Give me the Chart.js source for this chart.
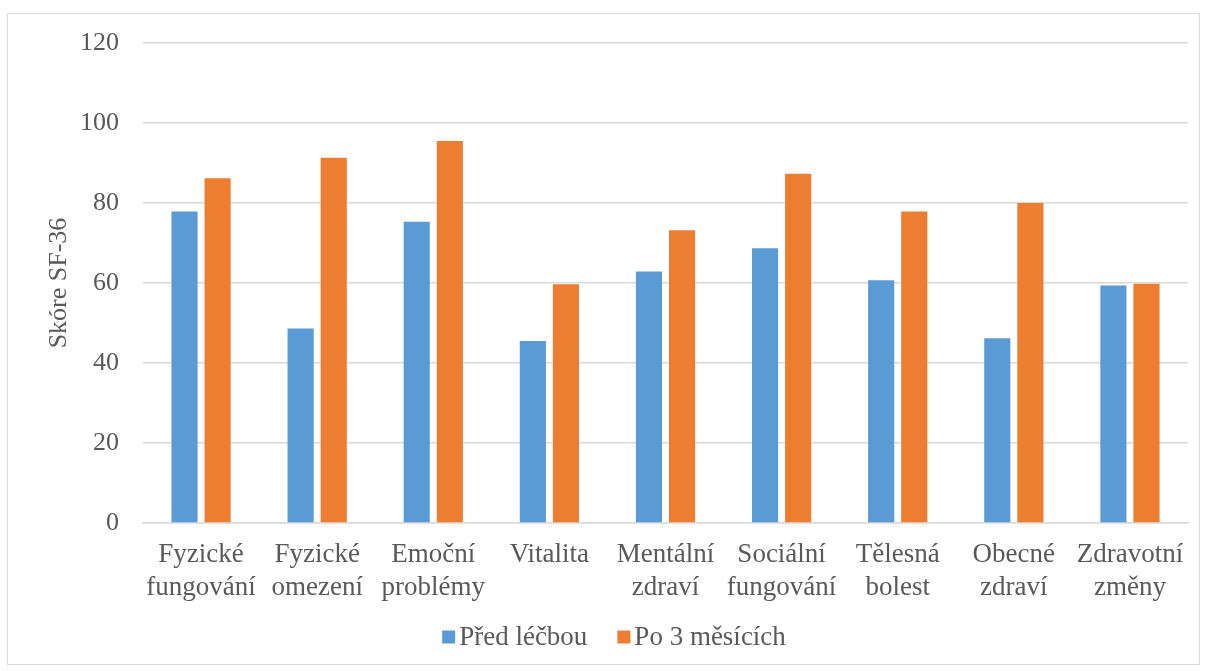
<!DOCTYPE html>
<html>
<head>
<meta charset="utf-8">
<script src="https://cdn.jsdelivr.net/npm/chart.js@4/dist/chart.umd.min.js"></script>
<style>
  html, body { margin: 0; padding: 0; background: #fff; }
  #wrap { width: 1207px; height: 671px; position: relative; }
</style>
</head>
<body>
<div id="wrap"><canvas id="c" width="1207" height="671"></canvas></div>
<script>
const categories = [
  ['Fyzické', 'fungování'],
  ['Fyzické', 'omezení'],
  ['Emoční', 'problémy'],
  'Vitalita',
  ['Mentální', 'zdraví'],
  ['Sociální', 'fungování'],
  ['Tělesná', 'bolest'],
  ['Obecné', 'zdraví'],
  ['Zdravotní', 'změny']
];
const seriesNames = ['Před léčbou', 'Po 3 měsících'];
const predLecbou = [77.9, 48.6, 75.3, 45.5, 62.9, 68.7, 60.7, 46.2, 59.4];
const po3Mesicich = [86.2, 91.3, 95.5, 59.7, 73.2, 87.3, 77.9, 80.0, 59.8];
const yTicks = [0, 20, 40, 60, 80, 100, 120];
const yTitle = 'Skóre SF-36';

const FONT = "'Liberation Serif', 'Times New Roman', serif";
const TEXT = '#595959';
const GRID = '#D9D9D9';

const frame = {
  id: 'frame',
  beforeDraw(chart) {
    const ctx = chart.ctx;
    ctx.save();
    ctx.fillStyle = '#fff';
    ctx.fillRect(0, 0, chart.width, chart.height);
    ctx.strokeStyle = GRID;
    ctx.lineWidth = 1;
    ctx.strokeRect(7.5, 13.5, 1192, 651);
    ctx.restore();
  }
};

// Legend drawn from the chart's datasets (Excel-like spacing)
const excelLegend = {
  id: 'excelLegend',
  afterDraw(chart) {
    const ctx = chart.ctx;
    const box = 13, gapText = 4, gapItem = 30, size = 27;
    ctx.save();
    ctx.font = size + 'px ' + FONT;
    ctx.textBaseline = 'middle';
    const items = chart.data.datasets.map(d => ({ text: d.label, color: d.backgroundColor, w: ctx.measureText(d.label).width }));
    let total = 0;
    items.forEach((it, i) => { total += box + gapText + it.w + (i < items.length - 1 ? gapItem : 0); });
    const cx = 614, cy = 637;
    let x = cx - total / 2;
    items.forEach(it => {
      ctx.fillStyle = it.color;
      ctx.fillRect(x, cy - box / 2, box, box);
      x += box + gapText;
      ctx.fillStyle = TEXT;
      ctx.fillText(it.text, x, cy + 1);
      x += it.w + gapItem;
    });
    ctx.restore();
  }
};

new Chart(document.getElementById('c'), {
  type: 'bar',
  data: {
    labels: categories,
    datasets: [
      { label: seriesNames[0], data: predLecbou, backgroundColor: '#5B9BD5', categoryPercentage: 0.57, barPercentage: 0.79 },
      { label: seriesNames[1], data: po3Mesicich, backgroundColor: '#ED7D31', categoryPercentage: 0.57, barPercentage: 0.79 }
    ]
  },
  options: {
    responsive: false,
    animation: false,
    devicePixelRatio: 1,
    layout: { padding: { top: 43, right: 19, bottom: 63, left: 0 } },
    plugins: {
      legend: { display: false },
      tooltip: { enabled: false }
    },
    scales: {
      x: {
        grid: { display: false, drawTicks: false },
        border: { color: GRID, width: 1.5 },
        ticks: { color: TEXT, font: { family: FONT, size: 27 }, padding: 16, maxRotation: 0, autoSkip: false },
        afterFit(scale) { scale.height = 85; }
      },
      y: {
        min: 0, max: 120,
        afterBuildTicks(scale) { scale.ticks = yTicks.map(v => ({ value: v })); },
        grid: { color: GRID, lineWidth: 1.5, drawTicks: false },
        border: { display: false },
        ticks: { color: TEXT, font: { family: FONT, size: 26 }, padding: 24 },
        title: { display: true, text: yTitle, color: TEXT, font: { family: FONT, size: 26 }, padding: { top: 44, bottom: 0 } },
        afterFit(scale) { scale.width = 143; }
      }
    }
  },
  plugins: [frame, excelLegend]
});
</script>
</body>
</html>
